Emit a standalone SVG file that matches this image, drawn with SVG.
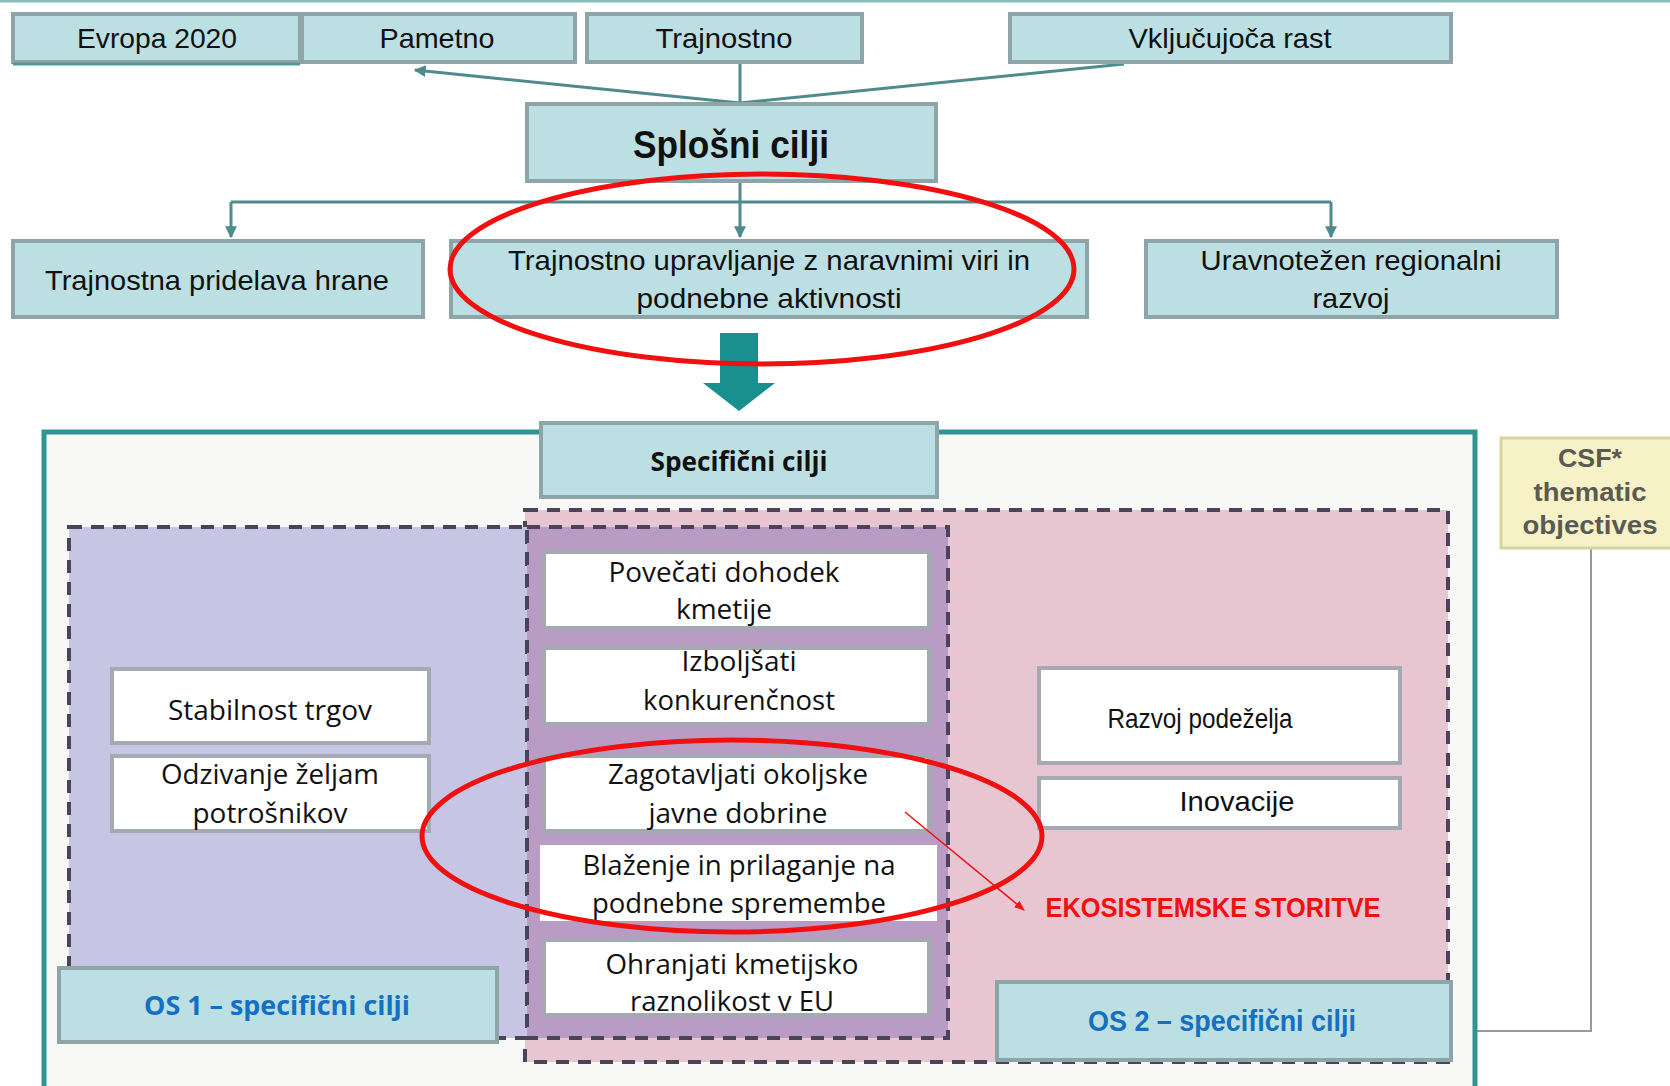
<svg xmlns="http://www.w3.org/2000/svg" width="1670" height="1086" viewBox="0 0 1670 1086">
<defs>
<marker id="tealHead" viewBox="0 0 10 10" refX="9" refY="5" markerWidth="4" markerHeight="4" orient="auto-start-reverse"><path d="M0,0 L10,5 L0,10 z" fill="#4f8a8c"/></marker>
<marker id="redHead" viewBox="0 0 10 10" refX="9" refY="5" markerWidth="7" markerHeight="7" orient="auto"><path d="M0,1 L10,5 L0,9 z" fill="#ff1010"/></marker>
<style>
.tb{fill:#bbdfe2;stroke:#8ea5a7;stroke-width:4}
.wb{fill:#ffffff;stroke:#a3aab2;stroke-width:4}
.cond{font-family:"Liberation Sans",Arial,sans-serif;fill:#111;text-anchor:middle}
.wide{font-family:"Open Sans","DejaVu Sans",sans-serif;fill:#111;text-anchor:middle}
.bold{font-weight:bold}
.blue{fill:#1570c2;font-weight:bold}
.dash{stroke:#4b4358;stroke-width:4;stroke-dasharray:13 9}
.conn{stroke:#4f8a8c;stroke-width:3;fill:none}
.red{fill:none;stroke:#f01010;stroke-width:5}
</style>
</defs>
<rect width="1670" height="1086" fill="#ffffff"/>
<line x1="0" y1="1" x2="1670" y2="1" stroke="#8dbcbc" stroke-width="3"/>

<g id="connectors">
<line class="conn" x1="740" y1="103" x2="415" y2="70" marker-end="url(#tealHead)"/>
<line class="conn" x1="740" y1="103" x2="740" y2="62"/>
<line class="conn" x1="740" y1="103" x2="1124" y2="64"/>
<line class="conn" x1="740" y1="181" x2="740" y2="202"/>
<line class="conn" x1="231" y1="202" x2="1331" y2="202"/>
<line class="conn" x1="231" y1="202" x2="231" y2="237" marker-end="url(#tealHead)"/>
<line class="conn" x1="740" y1="202" x2="740" y2="237" marker-end="url(#tealHead)"/>
<line class="conn" x1="1331" y1="202" x2="1331" y2="237" marker-end="url(#tealHead)"/>
<polygon points="720,333 758,333 758,383 775,383 739,411 703,383 720,383" fill="#17908f"/>
<polyline points="1591,548 1591,1031 1451,1031" fill="none" stroke="#9a9a9a" stroke-width="2"/>
</g>

<g id="n-evropa"><rect x="13" y="14" width="287" height="48" class="tb"/><line x1="13" y1="64" x2="300" y2="64" stroke="#4f9a9c" stroke-width="3"/><text x="157" y="48" class="cond" font-size="28" textLength="160" lengthAdjust="spacingAndGlyphs">Evropa 2020</text></g>
<g id="n-pametno"><rect x="302" y="14" width="273" height="48" class="tb"/><text x="437" y="48" class="cond" font-size="28" textLength="115" lengthAdjust="spacingAndGlyphs">Pametno</text></g>
<g id="n-trajnostno"><rect x="587" y="14" width="275" height="48" class="tb"/><text x="724" y="48" class="cond" font-size="28" textLength="137" lengthAdjust="spacingAndGlyphs">Trajnostno</text></g>
<g id="n-vkljucujoca"><rect x="1010" y="14" width="441" height="48" class="tb"/><text x="1230" y="48" class="cond" font-size="28" textLength="203" lengthAdjust="spacingAndGlyphs">Vključujoča rast</text></g>

<g id="n-splosni"><rect x="527" y="104" width="409" height="77" class="tb"/><text x="731" y="158" class="cond bold" font-size="38" textLength="196" lengthAdjust="spacingAndGlyphs">Splošni cilji</text></g>

<g id="n-pridelava"><rect x="13" y="241" width="410" height="76" class="tb"/><text x="217" y="290" class="cond" font-size="28" textLength="344" lengthAdjust="spacingAndGlyphs">Trajnostna pridelava hrane</text></g>
<g id="n-upravljanje"><rect x="451" y="241" width="636" height="76" class="tb"/><text x="769" y="270" class="cond" font-size="28" textLength="522" lengthAdjust="spacingAndGlyphs">Trajnostno upravljanje z naravnimi viri in</text><text x="769" y="308" class="cond" font-size="28" textLength="265" lengthAdjust="spacingAndGlyphs">podnebne aktivnosti</text></g>
<g id="n-regionalni"><rect x="1146" y="241" width="411" height="76" class="tb"/><text x="1351" y="270" class="cond" font-size="28" textLength="301" lengthAdjust="spacingAndGlyphs">Uravnotežen regionalni</text><text x="1351" y="308" class="cond" font-size="28" textLength="77" lengthAdjust="spacingAndGlyphs">razvoj</text></g>

<g id="n-frame"><rect x="44" y="432" width="1431" height="670" fill="#f8f8f6" stroke="#2f9593" stroke-width="5"/></g>

<g id="n-csf"><rect x="1501" y="438" width="175" height="110" fill="#f6f1c6" stroke="#d9d2a2" stroke-width="3"/>
<text x="1590" y="467" font-family="'Liberation Sans',Arial,sans-serif" font-weight="bold" font-size="25" fill="#5a5a55" text-anchor="middle" textLength="64" lengthAdjust="spacingAndGlyphs">CSF*</text>
<text x="1590" y="501" font-family="'Liberation Sans',Arial,sans-serif" font-weight="bold" font-size="26" fill="#5a5a55" text-anchor="middle" textLength="113" lengthAdjust="spacingAndGlyphs">thematic</text>
<text x="1590" y="534" font-family="'Liberation Sans',Arial,sans-serif" font-weight="bold" font-size="26" fill="#5a5a55" text-anchor="middle" textLength="135" lengthAdjust="spacingAndGlyphs">objectives</text></g>

<g id="n-os2region"><rect x="525" y="510" width="923" height="552" fill="#e7c5d1" class="dash"/></g>
<g id="n-os1region"><rect x="69" y="527" width="458" height="511" fill="#c6c5e3" class="dash"/></g>
<g id="n-midregion"><rect x="527" y="527" width="421" height="511" fill="#b99cc4" class="dash"/></g>

<g id="n-specificni"><rect x="541" y="423" width="396" height="74" class="tb"/><text x="739" y="471" class="wide bold" font-size="26" textLength="177" lengthAdjust="spacingAndGlyphs">Specifični cilji</text></g>

<g id="n-povecati"><rect x="544" y="552" width="385" height="76" class="wb"/><text x="724" y="582" class="wide" font-size="27" textLength="231" lengthAdjust="spacingAndGlyphs">Povečati dohodek</text><text x="724" y="619" class="wide" font-size="27" textLength="96" lengthAdjust="spacingAndGlyphs">kmetije</text></g>
<g id="n-izboljsati"><rect x="544" y="648" width="385" height="76" class="wb"/><text x="739" y="671" class="wide" font-size="27" textLength="115" lengthAdjust="spacingAndGlyphs">Izboljšati</text><text x="739" y="710" class="wide" font-size="27" textLength="192" lengthAdjust="spacingAndGlyphs">konkurenčnost</text></g>
<g id="n-zagotavljati"><rect x="544" y="756" width="385" height="75" class="wb"/><text x="738" y="784" class="wide" font-size="27" textLength="260" lengthAdjust="spacingAndGlyphs">Zagotavljati okoljske</text><text x="738" y="823" class="wide" font-size="27" textLength="179" lengthAdjust="spacingAndGlyphs">javne dobrine</text></g>
<g id="n-blazenje"><rect x="540" y="845" width="397" height="76" fill="#ffffff"/><text x="739" y="875" class="wide" font-size="27" textLength="313" lengthAdjust="spacingAndGlyphs">Blaženje in prilaganje na</text><text x="739" y="913" class="wide" font-size="27" textLength="294" lengthAdjust="spacingAndGlyphs">podnebne spremembe</text></g>
<g id="n-ohranjati"><rect x="544" y="940" width="385" height="75" class="wb"/><text x="732" y="974" class="wide" font-size="27" textLength="253" lengthAdjust="spacingAndGlyphs">Ohranjati kmetijsko</text><text x="732" y="1011" class="wide" font-size="27" textLength="204" lengthAdjust="spacingAndGlyphs">raznolikost v EU</text></g>

<g id="n-stabilnost"><rect x="112" y="669" width="317" height="74" class="wb"/><text x="270" y="720" class="wide" font-size="27" textLength="204" lengthAdjust="spacingAndGlyphs">Stabilnost trgov</text></g>
<g id="n-odzivanje"><rect x="112" y="756" width="317" height="75" class="wb"/><text x="270" y="784" class="wide" font-size="27" textLength="218" lengthAdjust="spacingAndGlyphs">Odzivanje željam</text><text x="270" y="823" class="wide" font-size="27" textLength="155" lengthAdjust="spacingAndGlyphs">potrošnikov</text></g>

<g id="n-os1"><rect x="59" y="968" width="438" height="74" class="tb"/><text x="277" y="1015" class="wide blue" font-size="27" textLength="266" lengthAdjust="spacingAndGlyphs">OS 1 – specifični cilji</text></g>

<g id="n-razvoj"><rect x="1039" y="668" width="361" height="95" class="wb"/><text x="1200" y="728" class="cond" font-size="28" textLength="185" lengthAdjust="spacingAndGlyphs">Razvoj podeželja</text></g>
<g id="n-inovacije"><rect x="1039" y="778" width="361" height="50" class="wb"/><text x="1237" y="811" class="cond" font-size="28" textLength="115" lengthAdjust="spacingAndGlyphs">Inovacije</text></g>

<g id="n-os2"><rect x="997" y="982" width="454" height="78" class="tb"/><text x="1222" y="1031" class="cond blue" font-size="29" textLength="268" lengthAdjust="spacingAndGlyphs">OS 2 – specifični cilji</text></g>

<g id="n-ekosistemske"><text x="1213" y="917" class="cond" font-size="28" font-weight="bold" fill="#f01010" style="fill:#f01010" textLength="335" lengthAdjust="spacingAndGlyphs">EKOSISTEMSKE STORITVE</text></g>

<g id="annotations">
<ellipse class="red" cx="762" cy="269" rx="312" ry="95"/>
<ellipse class="red" cx="732" cy="836" rx="310" ry="96"/>
<line x1="905" y1="812" x2="1024" y2="910" stroke="#f01010" stroke-width="1.5" marker-end="url(#redHead)"/>
</g>
</svg>
